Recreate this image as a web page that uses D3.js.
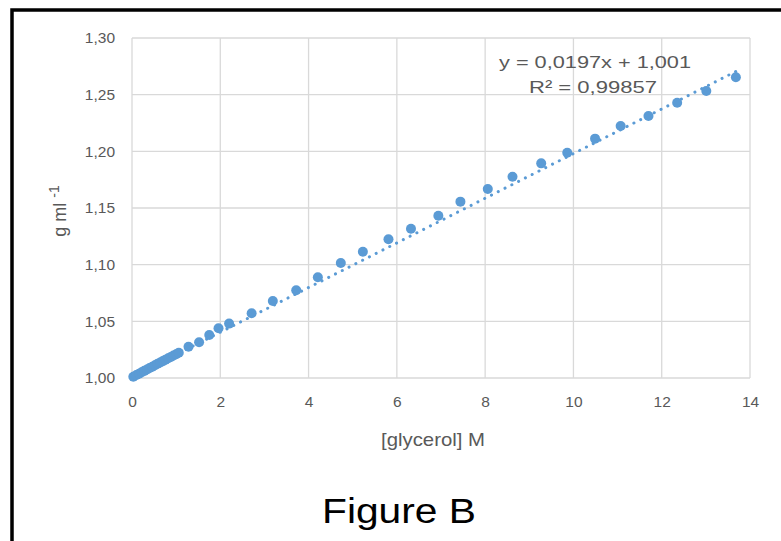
<!DOCTYPE html>
<html>
<head>
<meta charset="utf-8">
<script src="https://cdn.jsdelivr.net/npm/d3@7"></script>
<style>
  body { margin: 0; background: #fff; }
  text { font-family: "Liberation Sans", Arial, sans-serif; }
</style>
</head>
<body>
<svg width="781" height="541"></svg>
<script>
// glycerol molarity (M) and density (g/ml)
var molarity = [0.03, 0.1, 0.16, 0.22, 0.28, 0.34, 0.4, 0.46, 0.52, 0.58, 0.64, 0.7, 0.76, 0.82, 0.88, 0.94, 1.0, 1.06,
  1.28, 1.52, 1.75, 1.96, 2.2, 2.71, 3.19, 3.72, 4.21, 4.73, 5.23, 5.81, 6.32, 6.94, 7.44, 8.06, 8.62,
  9.27, 9.86, 10.49, 11.07, 11.7, 12.35, 13.01, 13.68];
var density = [1.0011, 1.0026, 1.0038, 1.0051, 1.0063, 1.0075, 1.0088, 1.0100, 1.0112, 1.0125, 1.0137, 1.0149, 1.0162, 1.0174, 1.0186, 1.0198, 1.0210, 1.0223,
  1.0276, 1.0315, 1.0380, 1.0439, 1.0480, 1.0571, 1.0679, 1.0774, 1.0889, 1.1015, 1.1114, 1.1224, 1.1317, 1.1432, 1.1556, 1.1668, 1.1776,
  1.1894, 1.1988, 1.2112, 1.2224, 1.2312, 1.2429, 1.2532, 1.2653];
var xTicks = [0, 2, 4, 6, 8, 10, 12, 14];
var yTicks = [1.00, 1.05, 1.10, 1.15, 1.20, 1.25, 1.30];
var slope = 0.0197, intercept = 1.001;
var eqLabel = "y = 0,0197x + 1,001";
var r2Label = "R\u00b2 = 0,99857";

var data = molarity.map(function(m, i){ return {x: m, y: density[i]}; });

var svg = d3.select("svg");
var blue = "#5b9bd5", grid = "#d9d9d9", txt = "#595959";

// frame of the figure
svg.append("path")
    .attr("d", "M12,541 V10 H781")
    .attr("fill", "none")
    .attr("stroke", "#000")
    .attr("stroke-width", 3.5);

var x = d3.scaleLinear().domain([0, 14]).range([132, 750]);
var y = d3.scaleLinear().domain([1.0, 1.3]).range([378, 38]);

// gridlines
svg.append("g").selectAll("line").data(xTicks).enter().append("line")
    .attr("x1", function(d){ return x(d); }).attr("x2", function(d){ return x(d); })
    .attr("y1", y(1.3)).attr("y2", y(1.0))
    .attr("stroke", grid).attr("stroke-width", 1.3);
svg.append("g").selectAll("line").data(yTicks).enter().append("line")
    .attr("x1", x(0)).attr("x2", x(14))
    .attr("y1", function(d){ return y(d); }).attr("y2", function(d){ return y(d); })
    .attr("stroke", grid).attr("stroke-width", 1.3);

// tick labels via d3 axes, no lines
var fmtY = function(d){ return d3.format(".2f")(d).replace(".", ","); };
var gx = svg.append("g").attr("transform", "translate(0," + y(1.0) + ")")
    .call(d3.axisBottom(x).tickValues(xTicks).tickSize(0).tickPadding(18));
var gy = svg.append("g").attr("transform", "translate(" + x(0) + ",0)")
    .call(d3.axisLeft(y).tickValues(yTicks).tickFormat(fmtY).tickSize(0).tickPadding(17));
[gx, gy].forEach(function(g){
  g.select(".domain").remove();
  g.selectAll("text").attr("fill", txt).style("font-size", "15.5px")
      .style("font-family", "'Liberation Sans', Arial, sans-serif");
});

// trendline
svg.append("line")
    .attr("x1", x(0)).attr("y1", y(intercept))
    .attr("x2", x(13.75)).attr("y2", y(slope * 13.75 + intercept))
    .attr("stroke", blue).attr("stroke-width", 3)
    .attr("stroke-linecap", "round")
    .attr("stroke-dasharray", "0.1,7.5");

// points
svg.append("g").selectAll("circle").data(data).enter().append("circle")
    .attr("cx", function(d){ return x(d.x); })
    .attr("cy", function(d){ return y(d.y); })
    .attr("r", 5)
    .attr("fill", blue);

// equation
svg.append("text").attr("x", 595).attr("y", 68).attr("text-anchor", "middle")
    .attr("fill", txt).style("font-size", "17px")
    .attr("textLength", 192).attr("lengthAdjust", "spacingAndGlyphs")
    .text(eqLabel);
svg.append("text").attr("x", 593).attr("y", 93).attr("text-anchor", "middle")
    .attr("fill", txt).style("font-size", "17px")
    .attr("textLength", 128).attr("lengthAdjust", "spacingAndGlyphs")
    .text(r2Label);

// axis titles
svg.append("text").attr("x", 433).attr("y", 446).attr("text-anchor", "middle")
    .attr("fill", txt).style("font-size", "19px")
    .attr("textLength", 104).attr("lengthAdjust", "spacingAndGlyphs")
    .text("[glycerol] M");

var yt = svg.append("text").attr("transform", "translate(66,211) rotate(-90)")
    .attr("text-anchor", "middle").attr("fill", txt).style("font-size", "18px");
yt.append("tspan").text("g ml  ");
yt.append("tspan").attr("dy", -7).style("font-size", "14px").text("-1");

// figure caption
svg.append("text").attr("x", 399).attr("y", 523).attr("text-anchor", "middle")
    .attr("fill", "#000").style("font-size", "35px")
    .attr("textLength", 154).attr("lengthAdjust", "spacingAndGlyphs")
    .text("Figure B");
</script>
</body>
</html>
